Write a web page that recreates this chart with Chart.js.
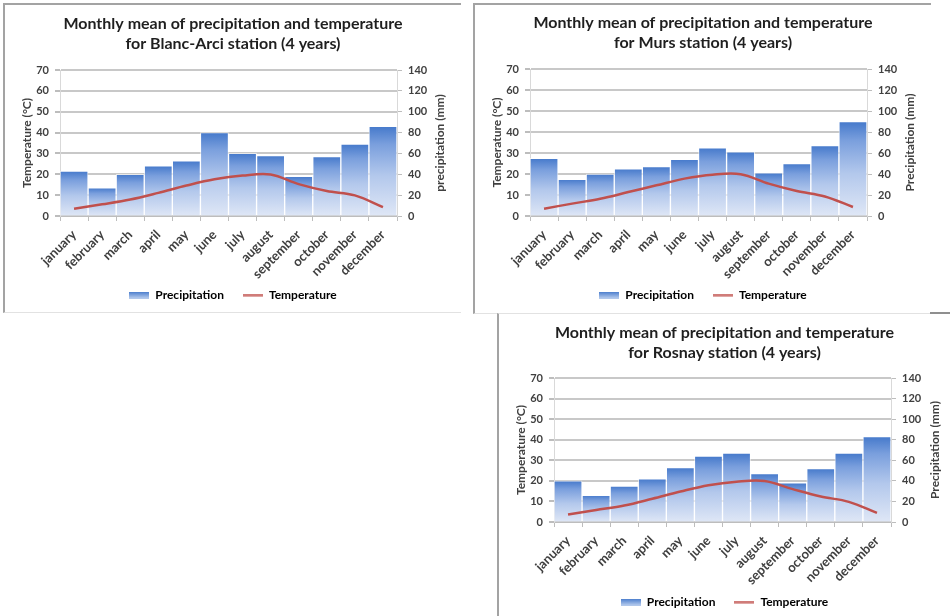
<!DOCTYPE html>
<html>
<head>
<meta charset="utf-8">
<script src="https://cdn.jsdelivr.net/npm/chart.js@4.4.1/dist/chart.umd.min.js"></script>
<style>
  html, body { margin: 0; padding: 0; background: #fff; width: 950px; height: 616px; overflow: hidden; }
  body { position: relative; font-family: Lato, sans-serif; }
  .panel { position: absolute; box-sizing: border-box; background: #fff; }
  .panel canvas { display: block; }
  #p1 { left: 3px; top: 3px; width: 458px; height: 310px; border-left: 2px solid #a3a3a3; border-top: 2px solid #a3a3a3; border-bottom: 1px solid #e2e2e2; }
  #p2 { left: 473px; top: 3px; width: 458px; height: 311px; border-left: 2px solid #a3a3a3; border-top: 2px solid #a3a3a3; border-bottom: 1px solid #e2e2e2; }
  #p3 { left: 497px; top: 313px; width: 453px; height: 303px; border-left: 2px solid #a3a3a3; border-top: 1px solid #e2e2e2; }
  #edge { position: absolute; left: 930px; top: 312px; width: 20px; height: 2px; background: #8f8f8f; }
</style>
</head>
<body>
<div class="panel" id="p1"><canvas id="c1" width="456" height="307"></canvas></div>
<div class="panel" id="p2"><canvas id="c2" width="456" height="308"></canvas></div>
<div class="panel" id="p3"><canvas id="c3" width="451" height="306"></canvas></div>
<div id="edge"></div>
<script>
// Months shown on the category axis
const months = ['january', 'february', 'march', 'april', 'may', 'june',
  'july', 'august', 'september', 'october', 'november', 'december'];

// Monthly mean precipitation (mm) per station
const precipBlancArci = [43, 27, 40, 48, 53, 80, 60, 58, 38, 57, 69, 86];
const precipMurs      = [55, 35, 40, 45, 47, 54, 65, 61, 41, 50, 67, 90];
const precipRosnay    = [40, 26, 35, 42, 53, 64, 67, 47, 38, 52, 67, 83];

// Monthly mean temperature (°C) per station
const tempBlancArci = [3.5, 5.6, 7.9, 11.1, 14.6, 17.6, 19.4, 19.9, 15.3, 12.0, 9.9, 4.3];
const tempMurs      = [3.5, 5.9, 8.2, 11.4, 14.6, 17.8, 19.7, 19.9, 15.4, 11.9, 9.3, 4.3];
const tempRosnay    = [3.6, 5.8, 8.0, 11.3, 14.8, 17.9, 19.6, 19.9, 16.0, 12.4, 9.8, 4.4];

// Axis ranges: [min, max, step]
const tempAxis   = [0, 70, 10];
const precipAxis = [0, 140, 20];

Chart.defaults.font.family = 'Lato, sans-serif';
Chart.defaults.color = '#404040';

const FONT_TICK = { size: 11, weight: 'bold' };
const FONT_CAT  = { size: 13, weight: 'bold' };

// Vertical blue gradient for each bar, from its top down to the baseline
function barFill(ctx) {
  const chart = ctx.chart;
  if (ctx.type !== 'data' || !chart.chartArea) return '#7fa3dc';
  const s = chart.scales.y1;
  const top = s.getPixelForValue(ctx.raw);
  const base = s.getPixelForValue(0);
  const g = chart.ctx.createLinearGradient(0, top, 0, base);
  g.addColorStop(0, '#4579cb');
  g.addColorStop(0.2, '#7a9fdd');
  g.addColorStop(0.55, '#b3c8ec');
  g.addColorStop(1, '#dfe7f6');
  return g;
}

// Legend swatches
function makeSwatch(w, h, paint) {
  const c = document.createElement('canvas');
  c.width = w; c.height = h;
  paint(c.getContext('2d'), w, h);
  return c;
}
const precipSwatch = makeSwatch(20, 7, (g, w, h) => {
  const gr = g.createLinearGradient(0, 0, 0, h);
  gr.addColorStop(0, '#4579cb');
  gr.addColorStop(1, '#b9cdee');
  g.fillStyle = gr;
  g.fillRect(0, 0, w, h);
});
const tempSwatch = makeSwatch(20, 3, (g, w, h) => {
  g.fillStyle = '#c0504d';
  g.fillRect(0, 0.5, w, 2);
});

// Right-hand axis title, read bottom to top
const rightTitle = {
  id: 'rightTitle',
  afterDraw(chart, args, opts) {
    const { ctx, chartArea } = chart;
    ctx.save();
    ctx.translate(opts.x, (chartArea.top + chartArea.bottom) / 2);
    ctx.rotate(-Math.PI / 2);
    ctx.textAlign = 'center';
    ctx.textBaseline = 'middle';
    ctx.font = 'bold 12px Lato, sans-serif';
    ctx.fillStyle = '#404040';
    ctx.fillText(opts.text, 0, 0);
    ctx.restore();
  }
};

function buildChart(id, o) {
  return new Chart(document.getElementById(id), {
    type: 'bar',
    data: {
      labels: months,
      datasets: [
        {
          type: 'bar', label: 'Precipitation', data: o.precip, yAxisID: 'y1', order: 2,
          backgroundColor: barFill, borderColor: 'rgba(255,255,255,0.6)', borderWidth: 1,
          borderSkipped: 'bottom', barPercentage: 1, categoryPercentage: 1
        },
        {
          type: 'line', label: 'Temperature', data: o.temp, yAxisID: 'y', order: 1,
          borderColor: '#c0504d', borderWidth: 2.5, tension: 0.35, pointRadius: 0, fill: false
        }
      ]
    },
    options: {
      responsive: false,
      animation: false,
      devicePixelRatio: 1,
      layout: { padding: { left: 0, right: 0, top: 0, bottom: o.padBottom } },
      plugins: {
        tooltip: { enabled: false },
        title: {
          display: true,
          text: o.title,
          color: '#1f1f1f',
          font: { size: 16, weight: 'bold', lineHeight: 1.25 },
          padding: { top: o.titleTop, bottom: o.titleBottom }
        },
        legend: {
          position: 'bottom',
          labels: {
            usePointStyle: true,
            pointStyleWidth: 20,
            padding: 4,
            color: '#404040',
            font: { size: 12, weight: 'bold' },
            generateLabels: () => [
              { text: 'Precipitation\u2003\u2002', pointStyle: precipSwatch, fillStyle: 'transparent', strokeStyle: 'transparent', lineWidth: 0, datasetIndex: 0, hidden: false },
              { text: 'Temperature', pointStyle: tempSwatch, fillStyle: 'transparent', strokeStyle: 'transparent', lineWidth: 0, datasetIndex: 1, hidden: false }
            ]
          }
        },
        rightTitle: { text: o.rightTitle, x: o.rightTitleX }
      },
      scales: {
        x: {
          type: 'category',
          offset: true,
          afterFit: (s) => { s.height = o.xHeight; },
          grid: { offset: true, drawOnChartArea: false, drawTicks: true, tickLength: 5, tickColor: '#bdbdbd' },
          border: { display: true, color: '#bdbdbd', width: 1 },
          ticks: { minRotation: 45, maxRotation: 45, autoSkip: false, padding: 6, font: FONT_CAT, color: '#404040' }
        },
        y: {
          position: 'left',
          min: tempAxis[0], max: tempAxis[1],
          afterFit: (s) => { s.width = 55; },
          grid: { color: '#c8c8c8', lineWidth: 2, drawTicks: true, tickLength: 5, tickColor: '#bdbdbd' },
          border: { display: true, color: '#d9d9d9', width: 1 },
          ticks: { stepSize: tempAxis[2], padding: 6, font: FONT_TICK, color: '#404040' },
          title: {
            display: true, text: 'Temperature (°C)', color: '#404040',
            font: { size: 12, weight: 'bold', lineHeight: 1.2 },
            padding: { top: 15, bottom: 0 }
          }
        },
        y1: {
          position: 'right',
          min: precipAxis[0], max: precipAxis[1],
          afterFit: (s) => { s.width = o.rightWidth; },
          grid: { drawOnChartArea: false, drawTicks: true, tickLength: 5, tickColor: '#bdbdbd' },
          border: { display: true, color: '#d9d9d9', width: 1 },
          ticks: { stepSize: precipAxis[2], padding: 6, font: FONT_TICK, color: '#404040' }
        }
      }
    },
    plugins: [rightTitle]
  });
}

buildChart('c1', {
  title: ['Monthly mean of precipitation and temperature', 'for Blanc-Arci station (4 years)'],
  precip: precipBlancArci, temp: tempBlancArci,
  titleTop: 9.2, titleBottom: 15.8, padBottom: 1, xHeight: 69,
  rightWidth: 64, rightTitle: 'precipitation (mm)', rightTitleX: 435
});
buildChart('c2', {
  title: ['Monthly mean of precipitation and temperature', 'for Murs station (4 years)'],
  precip: precipMurs, temp: tempMurs,
  titleTop: 8.2, titleBottom: 15.8, padBottom: 2, xHeight: 69,
  rightWidth: 64, rightTitle: 'Precipitation (mm)', rightTitleX: 435
});
buildChart('c3', {
  title: ['Monthly mean of precipitation and temperature', 'for Rosnay station (4 years)'],
  precip: precipRosnay, temp: tempRosnay,
  titleTop: 8.9, titleBottom: 15.1, padBottom: 2, xHeight: 70,
  rightWidth: 59, rightTitle: 'Precipitation (mm)', rightTitleX: 436
});
</script>
</body>
</html>
